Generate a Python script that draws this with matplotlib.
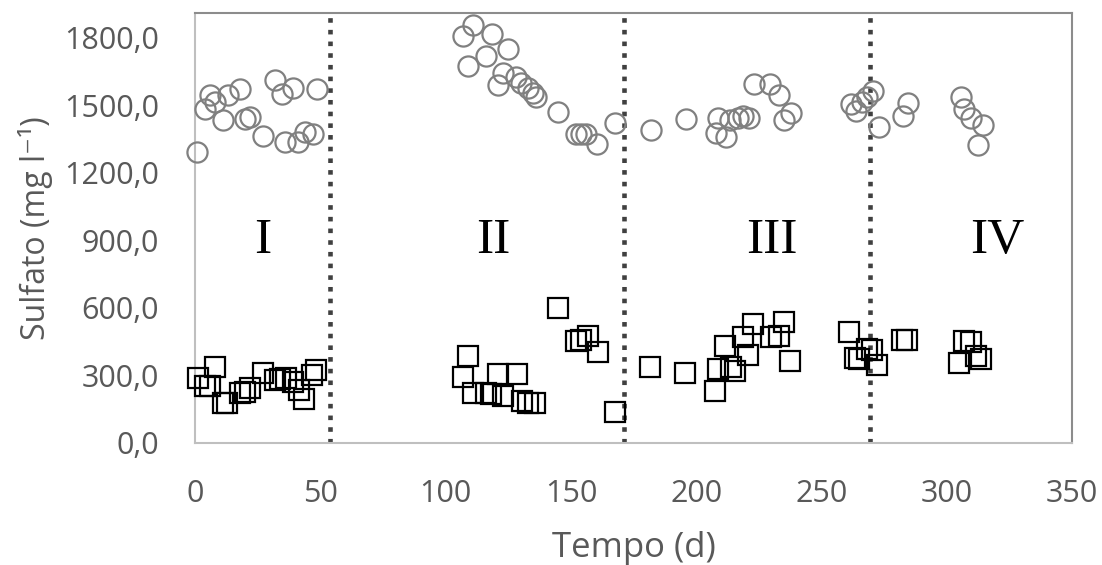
import matplotlib
matplotlib.use("Agg")
import matplotlib.pyplot as plt
from matplotlib.ticker import FuncFormatter

# Sulfato de entrada (círculos cinza)
t_in = [0.9, 4, 6, 8, 11, 13, 18, 20, 22, 27, 32, 34.5, 39, 36, 41, 44, 47, 48.5,
        107, 111, 118.5, 109, 116, 125, 123, 121, 128, 130, 133, 135, 136, 145,
        152, 154, 156, 160.5, 167.5,
        182, 196, 208.5, 208, 212, 213.5, 216.5, 218.5, 221, 223, 229.6, 233, 235, 237.6,
        261.6, 263.6, 266, 268, 270.4, 272.8, 282.5, 284.5,
        305.6, 307, 309.6, 314.4, 312.4]
s_in = [1293, 1484, 1547, 1516, 1436, 1547, 1573, 1440, 1449, 1364, 1613, 1551, 1578, 1338, 1338, 1382, 1373, 1573,
        1809, 1858, 1818, 1676, 1720, 1751, 1644, 1591, 1627, 1600, 1578, 1555, 1538, 1471,
        1373, 1373, 1373, 1329, 1422,
        1391, 1440, 1444, 1378, 1360, 1436, 1444, 1453, 1444, 1596, 1596, 1547, 1436, 1467,
        1507, 1476, 1516, 1538, 1564, 1404, 1453, 1511,
        1538, 1484, 1444, 1413, 1324]

# Sulfato de saída (quadrados pretos)
t_out = [1, 8, 4, 6, 11, 12.8, 18, 20, 22, 27, 32, 34, 36.4, 39, 41.6, 43.6, 46.8, 48.4,
         109, 107, 111, 116, 118, 121, 123, 128.4, 130.4, 132.8, 135.6,
         144.8, 152, 154, 156.8, 160.8, 167.6,
         181.6, 195.6, 207.6, 208.8, 211.6, 214, 215.6, 218.8, 220.8, 222.8, 230, 232.8, 234.8, 237.2,
         260.8, 263.2, 264.8, 268, 270, 272, 282, 284,
         304.8, 306.8, 309.6, 311.6, 313.6]
s_out = [289, 338, 253, 253, 178, 178, 222, 227, 244, 311, 280, 284, 289, 271, 236, 196, 302, 324,
         387, 293, 222, 222, 218, 307, 209, 307, 187, 178, 178,
         600, 453, 458, 476, 404, 138,
         338, 311, 231, 329, 431, 338, 320, 471, 391, 529, 471, 476, 538, 364,
         493, 378, 373, 418, 413, 347, 458, 458,
         356, 453, 449, 387, 373]

fases = ["I", "II", "III", "IV"]
fase_x = [27, 119, 230, 320]
divisoes = [54, 171, 269.5]

fig = plt.figure(figsize=(11.02, 5.65), dpi=100)
ax = fig.add_axes([0.177, 0.216, 0.796, 0.761])

ax.plot(t_in, s_in, linestyle="none", marker="o", ms=14.5, mfc="none",
        mec="#808080", mew=1.6, clip_on=False, zorder=3)
ax.plot(t_out, s_out, linestyle="none", marker="s", ms=14.5, mfc="none",
        mec="black", mew=1.6, clip_on=False, zorder=3)

for xd in divisoes:
    ax.axvline(xd, color="#404040", lw=3.3, linestyle=(0, (1.0, 1.55)),
               dash_capstyle="butt", zorder=2)

for nome, xf in zip(fases, fase_x):
    ax.text(xf, 844, nome, ha="center", va="baseline", fontsize=37,
            family="Liberation Serif", color="black")

ax.set_xlim(0, 350)
ax.set_ylim(0, 1910)
ax.set_xticks(range(0, 351, 50))
ax.set_yticks(range(0, 1801, 300))
ax.yaxis.set_major_formatter(FuncFormatter(lambda v, p: f"{v:.1f}".replace(".", ",")))
ax.tick_params(length=0, labelsize=22, labelcolor="#595959")
ax.tick_params(axis="y", pad=26)
ax.tick_params(axis="x", pad=26)
for lab in ax.get_xticklabels() + ax.get_yticklabels():
    lab.set_family("Open Sans")

ax.spines["left"].set_color("#bfbfbf")
ax.spines["bottom"].set_color("#bfbfbf")
ax.spines["top"].set_color("#8c8c8c")
ax.spines["right"].set_color("#8c8c8c")
for sp in ax.spines.values():
    sp.set_linewidth(1.5)

ax.set_xlabel("Tempo (d)", fontsize=25, color="#595959",
              family=["Open Sans", "DejaVu Sans"], labelpad=16)
ax.set_ylabel("Sulfato (mg l⁻¹)", fontsize=23, color="#595959",
              family=["Open Sans", "DejaVu Sans"], labelpad=8)

fig.savefig("out.png", dpi=100)
